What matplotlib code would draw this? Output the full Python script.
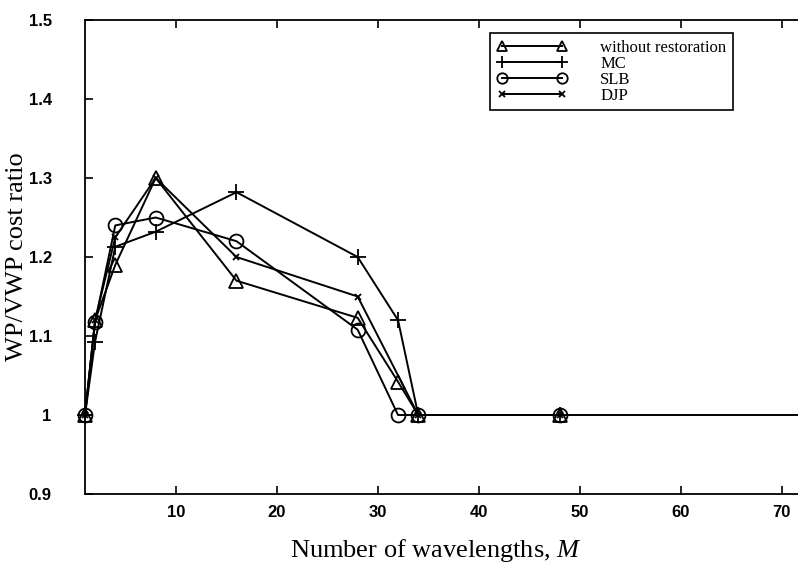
import matplotlib
matplotlib.use("Agg")
import matplotlib.pyplot as plt

plt.rcParams["mathtext.fontset"] = "custom"
plt.rcParams["mathtext.it"] = "Liberation Serif:italic"
plt.rcParams["mathtext.rm"] = "Liberation Serif"

# wavelength counts and WP/VWP cost ratios for each scheme
m_norest = [1, 2, 4, 8, 16, 28, 32, 34, 48]
r_norest = [1.0, 1.12, 1.19, 1.30, 1.17, 1.123, 1.042, 1.0, 1.0]

m_mc = [1, 2, 4, 8, 16, 28, 32, 34, 48]
r_mc = [1.0, 1.093, 1.213, 1.232, 1.282, 1.20, 1.12, 1.0, 1.0]

m_slb = [1, 2, 4, 8, 16, 28, 32, 34, 48]
r_slb = [1.0, 1.118, 1.24, 1.25, 1.22, 1.108, 1.0, 1.0, 1.0]

m_djp = [1, 2, 4, 8, 16, 28, 34, 48, 72]
r_djp = [1.0, 1.12, 1.225, 1.30, 1.20, 1.15, 1.0, 1.0, 1.0]

labels = ["without restoration", "MC", "SLB", "DJP"]
xticks = [10, 20, 30, 40, 50, 60, 70]
yticks = [0.9, 1.0, 1.1, 1.2, 1.3, 1.4, 1.5]
ytick_labels = ["0.9", "1", "1.1", "1.2", "1.3", "1.4", "1.5"]

fig = plt.figure(figsize=(7.98, 5.67), dpi=100)
ax = fig.add_axes([85 / 798, 73 / 567, 717 / 798, 474 / 567])

lw = 1.4
common = dict(color="black", lw=lw, clip_on=False, fillstyle="none", mew=1.3)
ax.plot(m_norest, r_norest, marker="^", ms=10, label=labels[0], **common)
ax.plot(m_mc, r_mc, marker="+", ms=12, label=labels[1], **common)
ax.plot(m_slb, r_slb, marker="o", ms=10, label=labels[2], **common)
ax.plot(m_djp, r_djp, marker="x", ms=5, label=labels[3], **common)

ax.set_xlim(1, 72)
ax.set_ylim(0.9, 1.5)
ax.set_xticks(xticks)
ax.set_yticks(yticks)
ax.set_yticklabels(ytick_labels)

for s in ["left", "bottom", "top"]:
    ax.spines[s].set_linewidth(1.3)
ax.spines["right"].set_visible(False)

ax.tick_params(axis="x", direction="in", length=6, width=1.2, top=True, pad=8)
ax.tick_params(axis="y", direction="in", length=6, width=1.2, pad=24)
for t in ax.get_xticklabels() + ax.get_yticklabels():
    t.set_fontfamily("Liberation Sans")
    t.set_fontweight("bold")
    t.set_fontsize(12)

ax.set_ylabel("WP/VWP cost ratio", family="Liberation Serif", fontsize=19)
ax.yaxis.set_label_coords(-0.079, 0.5)
ax.set_xlabel("Number of wavelengths, $M$", family="Liberation Serif", fontsize=19)
ax.xaxis.set_label_coords(0.49, -0.09)
ax.xaxis.label.set_va("top")

leg = ax.legend(loc="upper left", bbox_to_anchor=(0.565, 0.9726), borderaxespad=0,
                prop={"family": "Liberation Serif", "size": 12}, numpoints=2,
                markerscale=0.75, handlelength=4.2, handletextpad=2.0,
                labelspacing=0.0, fancybox=False, framealpha=1,
                edgecolor="black", borderpad=0.4)
leg.get_frame().set_linewidth(1.2)

fig.savefig("out.png", dpi=100)
